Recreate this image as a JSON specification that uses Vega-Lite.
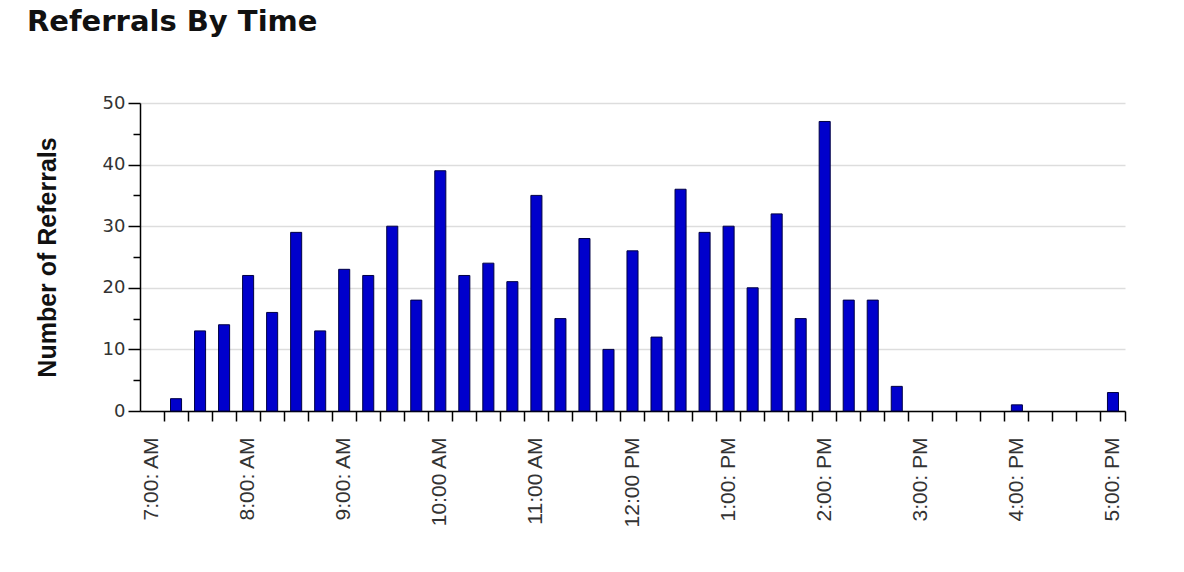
{
  "$schema": "https://vega.github.io/schema/vega-lite/v6.json",
  "width": 985,
  "height": 308,
  "autosize": "none",
  "padding": {"left": 140, "top": 103, "right": 59, "bottom": 161},
  "background": "white",
  "title": {
    "text": "Referrals By Time",
    "anchor": "start",
    "frame": "group",
    "dx": -113,
    "offset": 57,
    "font": "DejaVu Sans",
    "fontSize": 29,
    "fontWeight": "bold",
    "color": "#111111"
  },
  "data": {
    "values": [
      {"time": "7:00 AM", "count": 0},
      {"time": "7:15 AM", "count": 2},
      {"time": "7:30 AM", "count": 13},
      {"time": "7:45 AM", "count": 14},
      {"time": "8:00 AM", "count": 22},
      {"time": "8:15 AM", "count": 16},
      {"time": "8:30 AM", "count": 29},
      {"time": "8:45 AM", "count": 13},
      {"time": "9:00 AM", "count": 23},
      {"time": "9:15 AM", "count": 22},
      {"time": "9:30 AM", "count": 30},
      {"time": "9:45 AM", "count": 18},
      {"time": "10:00 AM", "count": 39},
      {"time": "10:15 AM", "count": 22},
      {"time": "10:30 AM", "count": 24},
      {"time": "10:45 AM", "count": 21},
      {"time": "11:00 AM", "count": 35},
      {"time": "11:15 AM", "count": 15},
      {"time": "11:30 AM", "count": 28},
      {"time": "11:45 AM", "count": 10},
      {"time": "12:00 PM", "count": 26},
      {"time": "12:15 PM", "count": 12},
      {"time": "12:30 PM", "count": 36},
      {"time": "12:45 PM", "count": 29},
      {"time": "1:00 PM", "count": 30},
      {"time": "1:15 PM", "count": 20},
      {"time": "1:30 PM", "count": 32},
      {"time": "1:45 PM", "count": 15},
      {"time": "2:00 PM", "count": 47},
      {"time": "2:15 PM", "count": 18},
      {"time": "2:30 PM", "count": 18},
      {"time": "2:45 PM", "count": 4},
      {"time": "3:00 PM", "count": 0},
      {"time": "3:15 PM", "count": 0},
      {"time": "3:30 PM", "count": 0},
      {"time": "3:45 PM", "count": 0},
      {"time": "4:00 PM", "count": 1},
      {"time": "4:15 PM", "count": 0},
      {"time": "4:30 PM", "count": 0},
      {"time": "4:45 PM", "count": 0},
      {"time": "5:00 PM", "count": 3}
    ]
  },
  "mark": {
    "type": "bar",
    "width": {"band": 0.46},
    "fill": "#0000CC",
    "stroke": "#000044",
    "strokeWidth": 1
  },
  "encoding": {
    "x": {
      "field": "time",
      "type": "ordinal",
      "sort": null,
      "scale": {"paddingInner": 0, "paddingOuter": 0},
      "axis": {
        "title": null,
        "bandPosition": 1,
        "domainColor": "#000000",
        "domainWidth": 1.5,
        "tickColor": "#000000",
        "tickWidth": 1.5,
        "tickSize": 10,
        "grid": false,
        "labelAngle": -90,
        "labelPadding": 16,
        "labelFont": "Liberation Sans",
        "labelFontSize": 21,
        "labelColor": "#333333",
        "labelOverlap": false,
        "labelBound": false,
        "labelExpr": "indexof(datum.value, ':00') < 0 ? '' : (length(datum.value) == 7 ? replace(datum.value, ' ', ': ') : datum.value)"
      }
    },
    "y": {
      "field": "count",
      "type": "quantitative",
      "scale": {"domain": [0, 50], "nice": false},
      "axis": {
        "title": "Number of Referrals",
        "titleFont": "Liberation Sans",
        "titleFontSize": 25,
        "titleFontWeight": "bold",
        "titleColor": "#111111",
        "titlePadding": 42,
        "values": [0, 5, 10, 15, 20, 25, 30, 35, 40, 45, 50],
        "labelExpr": "datum.value % 10 === 0 ? datum.label : ''",
        "labelFont": "DejaVu Sans",
        "labelFontSize": 18,
        "labelColor": "#333333",
        "labelPadding": 3,
        "domainColor": "#000000",
        "domainWidth": 1.5,
        "tickColor": "#000000",
        "tickWidth": 1.5,
        "tickSize": {"condition": {"test": "datum.value % 10 === 0", "value": 12}, "value": 7},
        "grid": true,
        "gridColor": "#DDDDDD",
        "gridWidth": 1.5,
        "gridOpacity": {"condition": {"test": "datum.value % 10 === 0", "value": 1}, "value": 0}
      }
    },
    "strokeOpacity": {
      "condition": {"test": "datum.count == 0", "value": 0},
      "value": 1
    }
  },
  "config": {
    "view": {"stroke": null}
  }
}
